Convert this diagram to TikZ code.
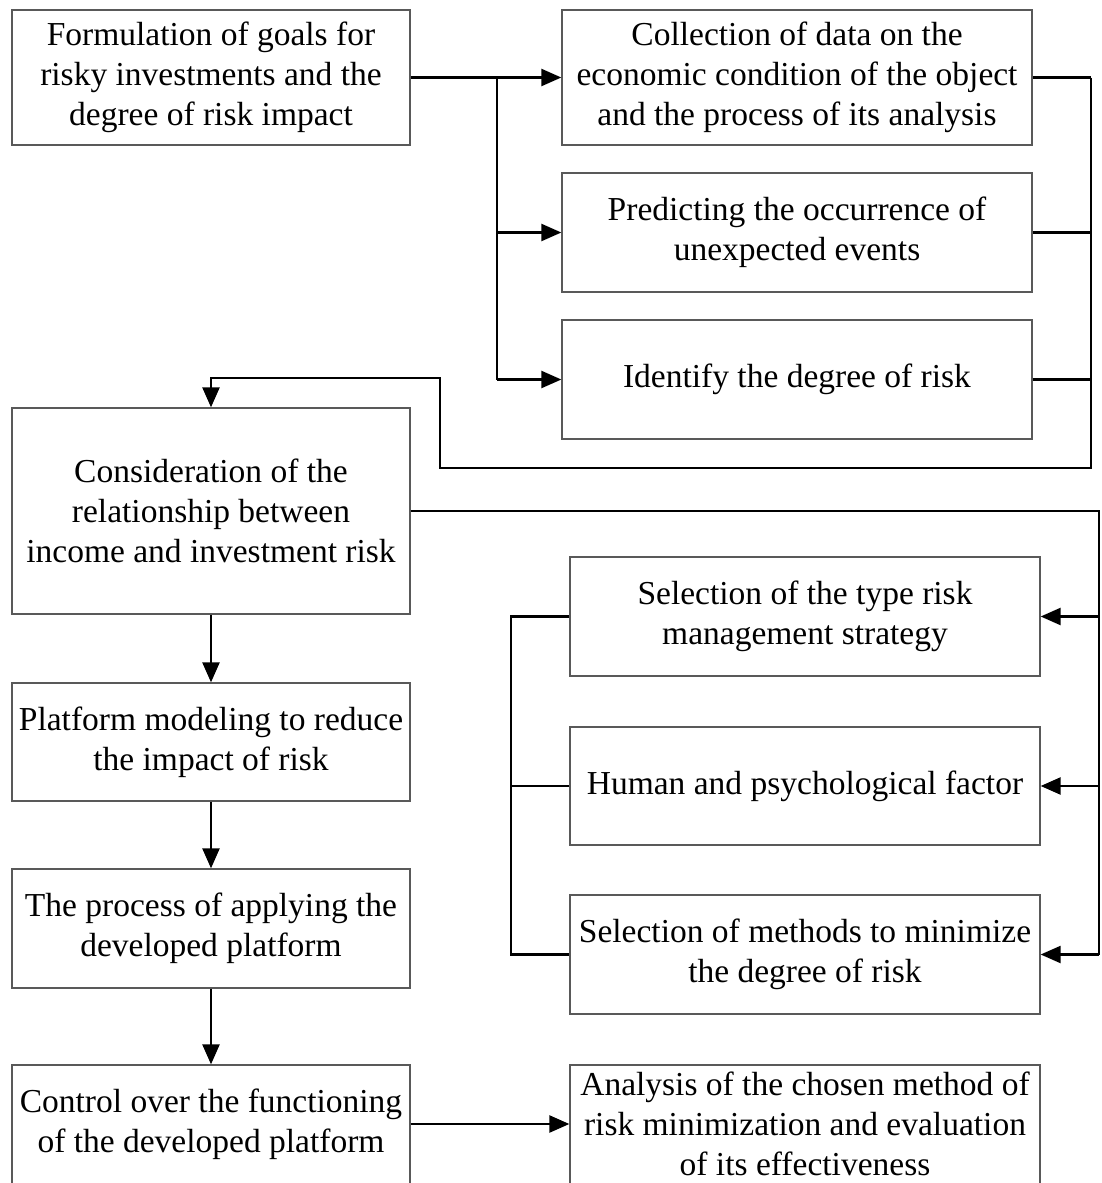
\documentclass[tikz,border=0pt]{standalone}
\usepackage{fontspec}
\setmainfont{Liberation Serif}
\usetikzlibrary{arrows.meta}
\begin{document}
\begin{tikzpicture}[x=1pt,y=-1pt,
  box/.style={draw=black!65,line width=1.3pt,fill=white,align=center,
    font=\fontsize{33.5}{40}\selectfont,inner sep=0pt},
  txt/.style={font=\fontsize{33.5}{40}\selectfont,align=center,inner sep=0pt},
  conn/.style={line width=2.4pt,black},
  arr/.style={conn,-{Triangle[length=20pt,width=17pt]}}]
\useasboundingbox (0,0) rectangle (1102,1183);
\clip (0,0) rectangle (1102,1183);
\fill[white] (0,0) rectangle (1102,1183);
% boxes
\node[box,minimum width=398pt,minimum height=135pt] (A) at (211,77.5) {Formulation of goals for\\risky investments and the\\degree of risk impact};
\node[box,minimum width=470pt,minimum height=135pt] (B) at (797,77.5) {Collection of data on the\\economic condition of the object\\and the process of its analysis};
\node[box,minimum width=470pt,minimum height=119pt] (C) at (797,232.5) {Predicting the occurrence of\\unexpected events};
\node[box,minimum width=470pt,minimum height=119pt] (D) at (797,379.5) {Identify the degree of risk};
\node[box,minimum width=398pt,minimum height=206pt] (E) at (211,511) {Consideration of the\\relationship between\\income and investment risk};
\node[box,minimum width=398pt,minimum height=118pt] (F) at (211,742) {Platform modeling to reduce\\the impact of risk};
\node[box,minimum width=398pt,minimum height=119pt] (G) at (211,928.5) {The process of applying the\\developed platform};
\node[box,minimum width=398pt,minimum height=160pt] (H) at (211,1145) {};
\node[txt] (Ht) at (211,1124) {Control over the functioning\\of the developed platform};
\node[box,minimum width=470pt,minimum height=119pt] (I) at (805,616.5) {Selection of the type risk\\management strategy};
\node[box,minimum width=470pt,minimum height=118pt] (J) at (805,786) {Human and psychological factor};
\node[box,minimum width=470pt,minimum height=119pt] (K) at (805,954.5) {Selection of methods to minimize\\the degree of risk};
\node[box,minimum width=470pt,minimum height=160pt] (L) at (805,1145) {};
\node[txt] (Lt) at (805,1124) {Analysis of the chosen method of\\risk minimization and evaluation\\of its effectiveness};
% coordinates
\coordinate (s1) at (497,77.5);
\coordinate (m1) at (1091,77.5);
\coordinate (m2) at (1091,468);
\coordinate (m3) at (440,468);
\coordinate (m4) at (440,378);
\coordinate (m5) at (211,378);
\coordinate (r1) at (1099,511);
\coordinate (l1) at (511,616.5);
\coordinate (l2) at (511,954.5);
% connectors
\draw[arr] (A.east) -- (B.west);
\draw[conn] (s1) -- (497,379.5);
\draw[arr] (497,232.5) -- (C.west);
\draw[arr] (497,379.5) -- (D.west);
\draw[conn] (B.east) -- (m1);
\draw[conn] (C.east) -- (1091,232.5);
\draw[conn] (D.east) -- (1091,379.5);
\draw[arr] (m1) -- (m2) -- (m3) -- (m4) -- (m5) -- (E.north);
\draw[conn] (E.east |- r1) -- (r1) -- (1099,954.5);
\draw[arr] (1099,616.5) -- (I.east);
\draw[arr] (1099,786) -- (J.east);
\draw[arr] (1099,954.5) -- (K.east);
\draw[conn] (I.west) -- (l1) -- (l2) -- (K.west);
\draw[conn] (J.west) -- (511,786);
\draw[arr] (E.south) -- (F.north);
\draw[arr] (F.south) -- (G.north);
\draw[arr] (G.south) -- (H.north);
\draw[arr] (H.east |- Ht) -- (L.west |- Ht);
\end{tikzpicture}
\end{document}
